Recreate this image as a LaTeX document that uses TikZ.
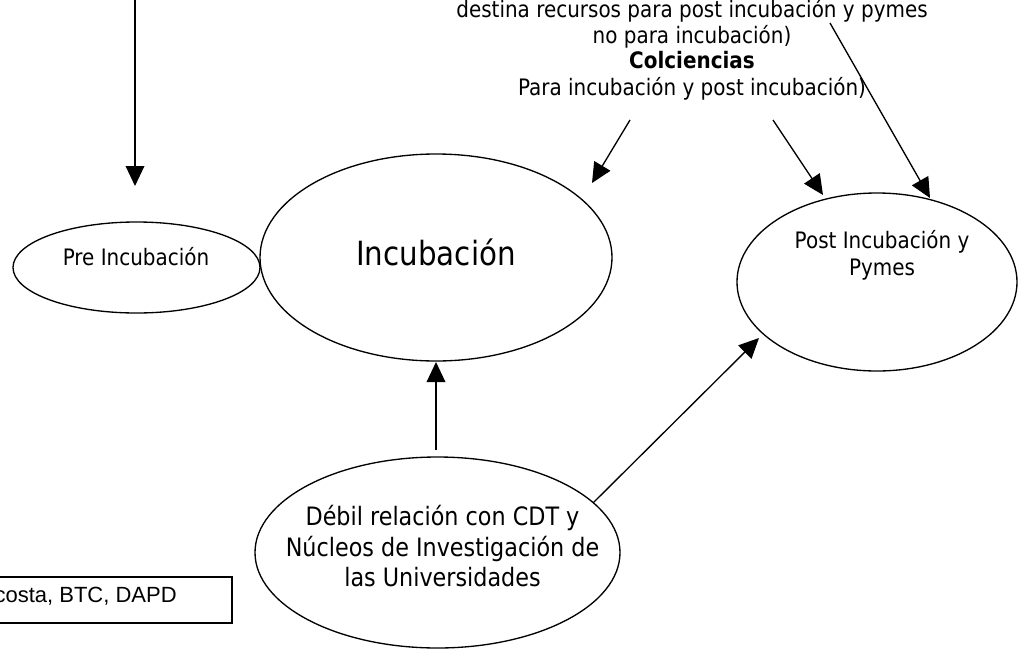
\documentclass[tikz,border=0pt]{standalone}
\usepackage{fontspec}
\setmainfont{DejaVu Sans}[FakeStretch=0.88]
\newfontfamily\arialf{Liberation Sans}
\usetikzlibrary{arrows.meta,shapes.geometric}
\begin{document}
\begin{tikzpicture}[x=0.75pt,y=-0.75pt,
  ell/.style={draw,ellipse,line width=1pt,inner sep=0pt},
  arr/.style={line width=1pt,-{Triangle[length=15pt,width=14pt]}},
  txt/.style={font=\fontsize{17}{20}\selectfont,inner sep=0pt,anchor=base},
  bigtxt/.style={txt,font=\fontsize{19}{22}\selectfont}]
\useasboundingbox (0,0) rectangle (1021,650);

% ellipses
\node[ell,minimum width=185.25pt,minimum height=68.25pt] (pre) at (136.5,267.5) {};
\node[ell,minimum width=264pt,minimum height=155.25pt] (inc) at (436,257.5) {};
\node[ell,minimum width=210pt,minimum height=133.5pt] (post) at (877,282) {};
\node[ell,minimum width=273.75pt,minimum height=143.25pt] (deb) at (437.5,552.5) {};

% texts in ellipses
\node[txt] (pretxt) at (136,265) {Pre Incubación};
\node[txt,font=\fontsize{25}{30}\selectfont] (inctxt) at (436,265) {Incubación};
\node[txt] (posttxt1) at (882,248) {Post Incubación y};
\node[txt] (posttxt2) at (882,275) {Pymes};
\node[bigtxt] (debtxt1) at (442.5,525) {Débil relación con CDT y};
\node[bigtxt] (debtxt2) at (442.5,556) {Núcleos de Investigación de};
\node[bigtxt] (debtxt3) at (442.5,586) {las Universidades};

% top text
\node[txt] (top1) at (692,17) {destina recursos para post incubación y pymes};
\node[txt] (top2) at (692,43) {no para incubación)};
\node[txt,font=\fontsize{17}{20}\bfseries] (top3) at (692,68) {Colciencias};
\node[txt] (top4) at (692,95) {Para incubación y post incubación)};

% box
\node[draw,line width=1pt,minimum width=175.5pt,minimum height=34.5pt,inner sep=0pt] (box) at (115,600) {};
\node[inner sep=0pt,anchor=base east,font=\arialf\fontsize{16.5}{19}\selectfont] (boxtxt) at (177,602) {costa, BTC, DAPD};

% connector end points
\coordinate (a0) at (135,0);
\coordinate (a1) at (135,186);
\coordinate (b0) at (630,120);
\coordinate (b1) at (592,183);
\coordinate (c0) at (773,120);
\coordinate (c1) at (823,195);
\coordinate (d0) at (830,23);
\coordinate (d1) at (930,198);
\coordinate (e0) at (436,450);
\coordinate (e1) at (436,362);
\coordinate (f0) at (593,503);
\coordinate (f1) at (759,338);

\draw[arr] (a0) -- (a1);
\draw[arr] (b0) -- (b1);
\draw[arr] (c0) -- (c1);
\draw[arr] (d0) -- (d1);
\draw[arr] (e0) -- (e1);
\draw[arr] (f0) -- (f1);
\end{tikzpicture}
\end{document}
